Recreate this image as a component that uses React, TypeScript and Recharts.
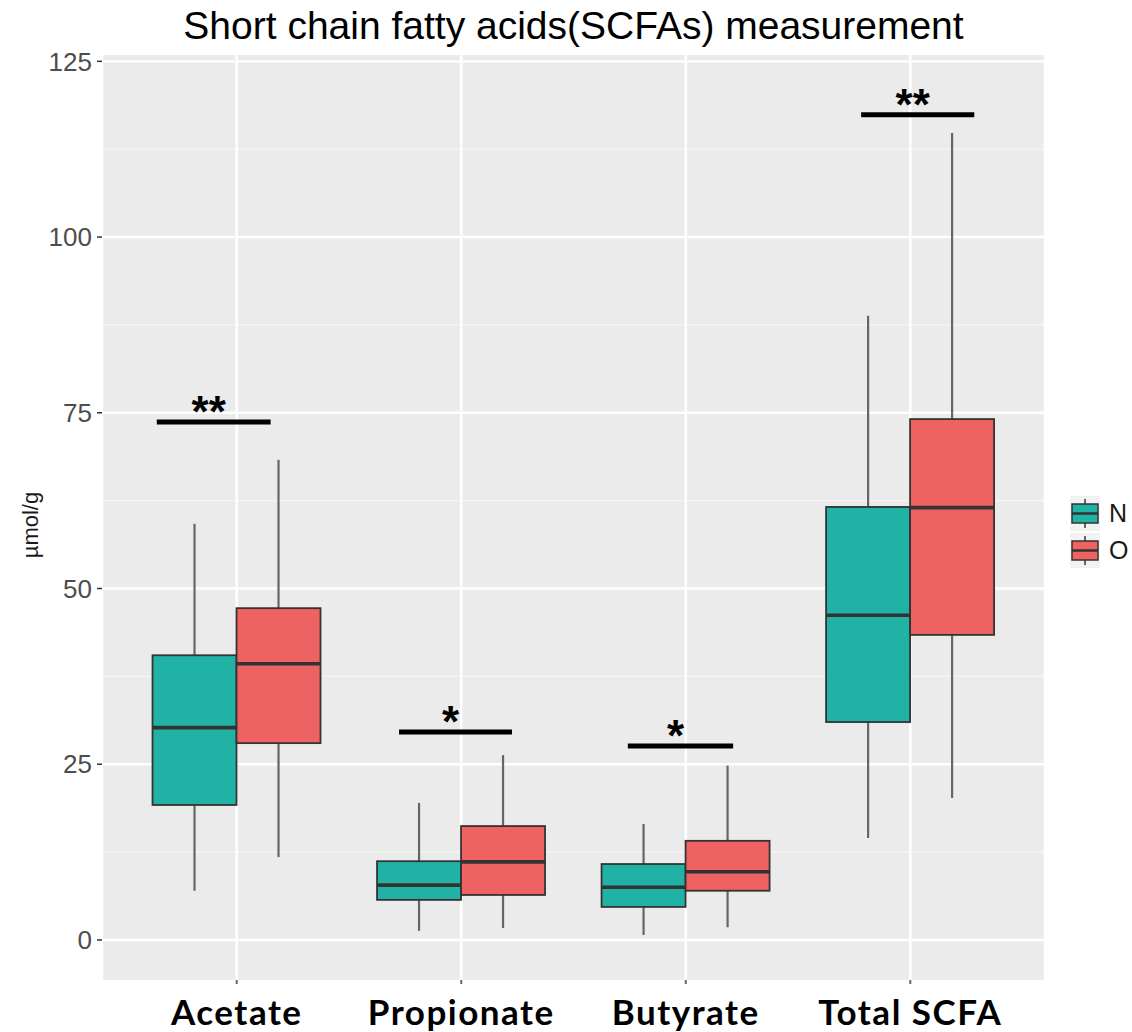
import React from "react";
import {
  ComposedChart,
  Bar,
  XAxis,
  YAxis,
  CartesianGrid,
  ReferenceLine,
} from "recharts";

const categories = ["Acetate", "Propionate", "Butyrate", "Total SCFA"];
const seriesNames = ["N", "O"];
const seriesColors = ["#21B2A6", "#EF6262"];

const nMin = [7.0, 1.3, 0.7, 14.5];
const nQ1 = [19.2, 5.7, 4.7, 31.0];
const nMed = [30.2, 7.8, 7.5, 46.2];
const nQ3 = [40.5, 11.2, 10.8, 61.6];
const nMax = [59.2, 19.5, 16.5, 88.8];

const oMin = [11.8, 1.7, 1.8, 20.2];
const oQ1 = [28.0, 6.4, 7.0, 43.4];
const oMed = [39.3, 11.1, 9.7, 61.5];
const oQ3 = [47.2, 16.2, 14.1, 74.1];
const oMax = [68.3, 26.3, 24.8, 114.8];

const sigLevel = [73.7, 29.6, 27.6, 117.4];
const sigLabel = ["**", "*", "*", "**"];
const sigStart = [0.644, 1.723, 2.742, 3.781];
const sigEnd = [1.151, 2.226, 3.211, 4.285];

const yTicks = [0, 25, 50, 75, 100, 125];
const yMinorTicks = [12.5, 37.5, 62.5, 87.5, 112.5];

const data = categories.map((c, i) => ({
  category: c,
  pos: i + 1,
  nMin: nMin[i],
  nQ1: nQ1[i],
  nMed: nMed[i],
  nQ3: nQ3[i],
  nMax: nMax[i],
  oMin: oMin[i],
  oQ1: oQ1[i],
  oMed: oMed[i],
  oQ3: oQ3[i],
  oMax: oMax[i],
}));

const makeBox = (prefix: string, color: string) => (props: any) => {
  const { x, y, width, height, payload } = props;
  if (!payload) return null;
  const q1 = payload[prefix + "Q1"];
  const q3 = payload[prefix + "Q3"];
  const med = payload[prefix + "Med"];
  const lo = payload[prefix + "Min"];
  const hi = payload[prefix + "Max"];
  const top = Math.min(y, y + height);
  const h = Math.abs(height);
  const k = h / (q3 - q1);
  const py = (v: number) => top + (q3 - v) * k;
  const cx = x + width / 2;
  return (
    <g>
      <line x1={cx} x2={cx} y1={py(hi)} y2={top} stroke="#666" strokeWidth={2.2} />
      <line x1={cx} x2={cx} y1={top + h} y2={py(lo)} stroke="#666" strokeWidth={2.2} />
      <rect x={x} y={top} width={width} height={h} fill={color} stroke="#333" strokeWidth={1.8} />
      <line x1={x} x2={x + width} y1={py(med)} y2={py(med)} stroke="#333" strokeWidth={3.6} />
    </g>
  );
};

const XTick = (props: any) => {
  const { x, y, payload } = props;
  return (
    <text
      x={x}
      y={y + 41}
      textAnchor="middle"
      fontFamily="Lato, 'Open Sans', sans-serif"
      fontWeight={700}
      fontSize={35}
      letterSpacing={1.5}
      fill="#000"
    >
      {payload.value}
    </text>
  );
};

const starLabel = (text: string) => (props: any) => {
  const vb = props.viewBox || { x: 0, y: 0, width: 0 };
  return (
    <text
      x={vb.x + vb.width / 2 - 5}
      y={vb.y + 5}
      textAnchor="middle"
      fontFamily="'Liberation Sans', Arial, sans-serif"
      fontWeight={700}
      fontSize={44}
      fill="#000"
    >
      {text}
    </text>
  );
};

export default function App() {
  return (
    <div
      style={{
        position: "absolute",
        left: 0,
        top: 0,
        width: 1132,
        height: 1032,
        background: "#fff",
      }}
    >
      <div
        style={{
          position: "absolute",
          left: 102,
          top: 3,
          width: 943,
          textAlign: "center",
          fontFamily: "'Liberation Sans', Arial, sans-serif",
          fontSize: 39,
          lineHeight: "46px",
          color: "#000",
          whiteSpace: "nowrap",
        }}
      >
        Short chain fatty acids(SCFAs) measurement
      </div>
      <div
        style={{
          position: "absolute",
          left: 31 - 60,
          top: 525 - 14,
          width: 120,
          height: 28,
          lineHeight: "28px",
          textAlign: "center",
          transform: "rotate(-90deg)",
          fontFamily: "'Liberation Sans', Arial, sans-serif",
          fontSize: 22,
          color: "#1a1a1a",
        }}
      >
        µmol/g
      </div>
      <ComposedChart
        width={1132}
        height={1032}
        data={data}
        margin={{ top: 55, right: 87, bottom: 12, left: 42 }}
        barCategoryGap="12.5%"
        barGap={0}
      >
        <CartesianGrid
          horizontalValues={yMinorTicks}
          vertical={false}
          fill="#EBEBEB"
          stroke="#F6F6F6"
          strokeWidth={1.2}
        />
        <CartesianGrid
          horizontalValues={yTicks}
          stroke="#FFFFFF"
          strokeWidth={2.4}
        />
        <XAxis
          dataKey="category"
          type="category"
          padding={{ left: 22.45, right: 22.45 }}
          axisLine={false}
          tickLine={{ stroke: "#666", strokeWidth: 2 }}
          tickSize={4}
          tickMargin={0}
          height={40}
          tick={<XTick />}
          interval={0}
        />
        <XAxis
          xAxisId="num"
          dataKey="pos"
          type="number"
          domain={[0.4, 4.6]}
          hide
          allowDataOverflow
        />
        <YAxis
          type="number"
          domain={[-5.7, 125.9]}
          ticks={yTicks}
          allowDataOverflow
          width={60}
          axisLine={false}
          tickLine={{ stroke: "#333", strokeWidth: 1.5 }}
          tickSize={5}
          tickMargin={5}
          tick={{
            fill: "#4D4D4D",
            fontSize: 26,
            fontFamily: "'Liberation Sans', Arial, sans-serif",
          }}
        />
        <Bar
          name={seriesNames[0]}
          dataKey={(d: any) => [d.nQ1, d.nQ3]}
          fill={seriesColors[0]}
          shape={makeBox("n", seriesColors[0])}
          isAnimationActive={false}
        />
        <Bar
          name={seriesNames[1]}
          dataKey={(d: any) => [d.oQ1, d.oQ3]}
          fill={seriesColors[1]}
          shape={makeBox("o", seriesColors[1])}
          isAnimationActive={false}
        />
        {categories.map((c, i) => (
          <ReferenceLine
            key={c}
            xAxisId="num"
            segment={[
              { x: sigStart[i], y: sigLevel[i] },
              { x: sigEnd[i], y: sigLevel[i] },
            ]}
            stroke="#000"
            strokeWidth={5}
            label={starLabel(sigLabel[i])}
          />
        ))}
      </ComposedChart>
      <div
        style={{
          position: "absolute",
          left: 1070,
          top: 495,
          fontFamily: "'Liberation Sans', Arial, sans-serif",
          fontSize: 25,
          color: "#1a1a1a",
        }}
      >
        {seriesNames.map((n, i) => (
          <div key={n} style={{ display: "flex", alignItems: "center", height: 37 }}>
            <svg width={30} height={35}>
              <rect x={0} y={0} width={30} height={35} fill="#F2F2F2" />
              <line x1={15} x2={15} y1={3} y2={32} stroke="#666" strokeWidth={2} />
              <rect x={2} y={8} width={26} height={19} fill={seriesColors[i]} stroke="#333" strokeWidth={1.5} />
              <line x1={2} x2={28} y1={17.5} y2={17.5} stroke="#333" strokeWidth={2.5} />
            </svg>
            <span style={{ marginLeft: 9 }}>{n}</span>
          </div>
        ))}
      </div>
    </div>
  );
}
